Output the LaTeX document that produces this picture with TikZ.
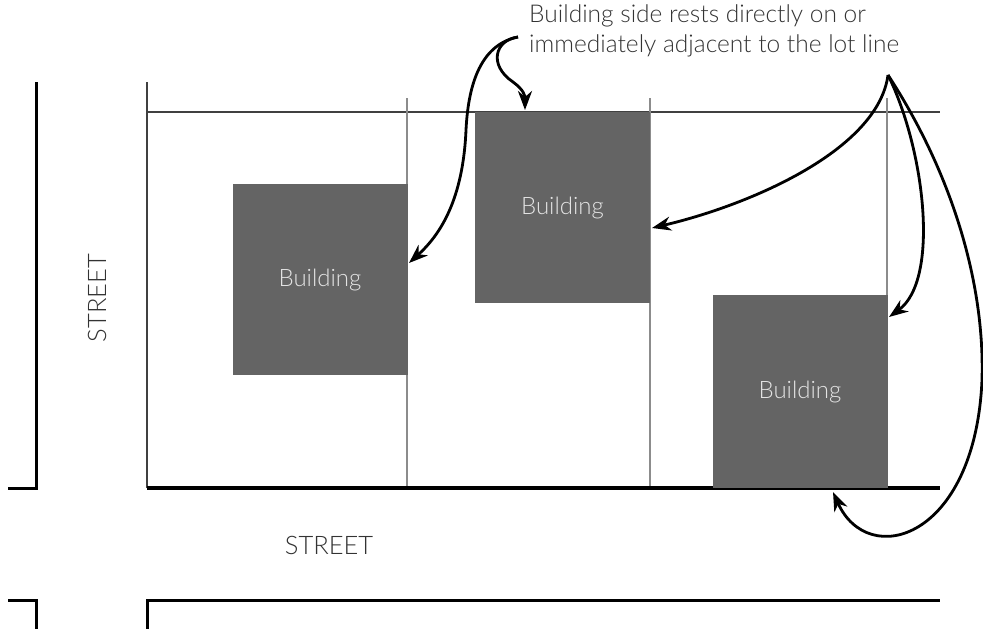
\documentclass[tikz,border=0pt]{standalone}
\usepackage{fontspec}
\setmainfont{Lato}[UprightFont=* Light]
\usetikzlibrary{arrows.meta}
\definecolor{bldg}{HTML}{646464}
\definecolor{bldgtext}{HTML}{E4E4E4}
\definecolor{inkgray}{HTML}{333333}

\begin{document}
\begin{tikzpicture}[x=1pt, y=-1pt]
\tikzstyle{building}=[fill=bldg, inner sep=0pt, minimum width=175pt,
                      minimum height=191pt, text=bldgtext,
                      font=\fontsize{24}{28}\selectfont]
\tikzstyle{street}=[text=inkgray, font=\fontsize{25.5}{28}\selectfont]
\tikzstyle{pointer}=[line width=2.8pt, -{Stealth[length=19pt,width=14pt,inset=6pt]}]
\useasboundingbox (0,0) rectangle (983,629);
% streets and lots
\draw[line width=3pt] (8,488) -- (36,488) -- (36,82);
\draw[line width=3pt] (8,600) -- (36,600) -- (36,629);
\draw[line width=3pt] (147,629) -- (147,600) -- (940,600);
\draw[line width=1.6pt, black!75] (147,82) -- (147,488);
\draw[line width=1.8pt, black!75] (147,112) -- (940,112);
\foreach \x in {407,650,887}
  \draw[line width=1.1pt, black!45] (\x,98) -- (\x,488);
\draw[line width=3.6pt] (147,488) -- (940,488);
% buildings
\node[building] (B1) at (320,279.5) {Building};
\node[building] (B2) at (562.5,207.5) {Building};
\node[building, minimum height=193pt] (B3) at (800,391.5) {Building};
\node[street, rotate=90] (S1) at (97,298) {STREET};
\node[street] (S2) at (329,545) {STREET};
\node[anchor=north west, inner sep=0pt, align=left, text=inkgray,
      font=\fontsize{24.5}{30}\selectfont] (N) at (529,4)
  {Building side rests directly on or\\immediately adjacent to the lot line};
% arrows
\coordinate (L) at (518,37);
\coordinate (R) at (888,75);
\coordinate (T1) at (409,263);
\coordinate (T2) at (525,110);
\coordinate (T3) at (652,228);
\coordinate (T4) at (889,317);
\coordinate (T5) at (833,492);
\draw[pointer] (L) .. controls (478,45) and (468,90) .. (466,130)
  .. controls (463,200) and (440,235) .. (T1);
\draw[pointer] (L) .. controls (495,40) and (488,65) .. (513,82)
  .. controls (524,90) and (525,96) .. (T2);
\draw[pointer] (R) .. controls (878,150) and (750,205) .. (T3);
\draw[pointer] (R) .. controls (925,150) and (940,280) .. (T4);
\draw[pointer] (R) .. controls (950,170) and (985,280) .. (982,380)
  .. controls (975,540) and (868,570) .. (T5);
\end{tikzpicture}
\end{document}
